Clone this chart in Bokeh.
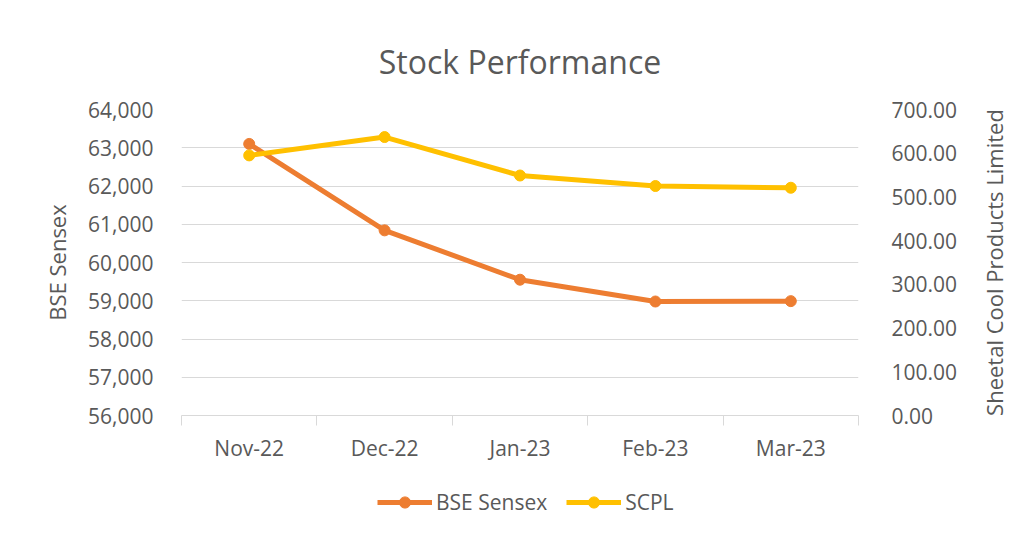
import math
from bokeh.plotting import figure
from bokeh.layouts import row, column
from bokeh.models import (FactorRange, Range1d, LinearAxis, CategoricalAxis, FixedTicker,
                          NumeralTickFormatter, Legend, LegendItem)
from bokeh.embed import file_html
from bokeh.resources import INLINE

months = ["Nov-22", "Dec-22", "Jan-23", "Feb-23", "Mar-23"]
bse_sensex = [63100, 60840, 59550, 58980, 58990]
scpl = [595, 637, 549, 525, 521]
left_ticks = [56000, 57000, 58000, 59000, 60000, 61000, 62000, 63000, 64000]
right_ticks = [0, 100, 200, 300, 400, 500, 600, 700]

FONT = "Open Sans"
TXT = "#595959"
GRID = "#d9d9d9"
ORANGE = "#ED7D31"
YELLOW = "#FFC000"

# ---------------- main chart ----------------
p = figure(width=960, height=486, x_range=FactorRange(factors=months),
           y_range=Range1d(56000, 64000), output_backend="svg", toolbar_location=None,
           x_axis_location=None,
           min_border_left=181, min_border_right=91, min_border_top=109, min_border_bottom=71)
p.outline_line_color = None

p.title.text = "Stock Performance"
p.title.align = "center"
p.title.text_font = FONT
p.title.text_font_size = "32px"
p.title.text_font_style = "normal"
p.title.text_color = TXT
p.title.standoff = 54

p.extra_y_ranges = {"scpl": Range1d(0, 700)}

ly = p.yaxis[0]
ly.ticker = FixedTicker(ticks=left_ticks)
ly.formatter = NumeralTickFormatter(format="0,0")
ly.axis_label = "BSE Sensex"
ry = LinearAxis(y_range_name="scpl", ticker=FixedTicker(ticks=right_ticks),
                formatter=NumeralTickFormatter(format="0.00"))
p.add_layout(ry, "right")
for ax in (ly, ry):
    ax.axis_line_color = None
    ax.major_tick_line_color = None
    ax.minor_tick_line_color = None
    ax.major_label_text_font = FONT
    ax.major_label_text_font_size = "21px"
    ax.major_label_text_color = TXT
ly.axis_label_text_font = FONT
ly.axis_label_text_font_size = "22px"
ly.axis_label_text_font_style = "normal"
ly.axis_label_text_color = TXT
ly.major_label_standoff = 22
ly.axis_label_standoff = 13
ry.major_label_standoff = 27

# boundary ticks (Excel style) in the factor range's synthetic coordinates
tx = LinearAxis(ticker=FixedTicker(ticks=[0, 1, 2, 3, 4, 5]),
                major_label_overrides={i: "" for i in range(6)})
tx.axis_line_color = GRID
tx.major_tick_line_color = GRID
tx.major_tick_in = 0
tx.major_tick_out = 10
tx.minor_tick_line_color = None
tx.major_label_text_font_size = "1px"
tx.major_label_standoff = 0
p.add_layout(tx, "below")

cx = CategoricalAxis()
cx.axis_line_color = None
cx.major_tick_line_color = None
cx.major_label_text_font = FONT
cx.major_label_text_font_size = "21px"
cx.major_label_text_color = TXT
cx.major_label_standoff = 2
p.add_layout(cx, "below")

p.ygrid.ticker = FixedTicker(ticks=left_ticks)
p.ygrid.grid_line_color = GRID
p.xgrid.grid_line_color = None

p.line(months, bse_sensex, line_color=ORANGE, line_width=5)
p.scatter(months, bse_sensex, size=11, fill_color=ORANGE, line_color=ORANGE)
p.line(months, scpl, y_range_name="scpl", line_color=YELLOW, line_width=5)
p.scatter(months, scpl, y_range_name="scpl", size=11, fill_color=YELLOW, line_color=YELLOW)

# ---------------- right axis title strip ----------------
strip = figure(width=60, height=486, x_range=Range1d(0, 1), y_range=Range1d(0, 1),
               output_backend="svg", toolbar_location=None, title=None,
               x_axis_location=None, y_axis_location="left",
               min_border_left=50, min_border_right=0, min_border_top=0, min_border_bottom=0)
strip.outline_line_color = None
strip.xgrid.visible = False
strip.ygrid.visible = False
sa = strip.yaxis[0]
sa.ticker = FixedTicker(ticks=[])
sa.axis_line_color = None
sa.major_tick_line_color = None
sa.minor_tick_line_color = None
sa.major_tick_out = 0
sa.major_label_standoff = 0
sa.axis_label = "Sheetal Cool Products Limited"
sa.axis_label_text_font = FONT
sa.axis_label_text_font_size = "22px"
sa.axis_label_text_font_style = "normal"
sa.axis_label_text_color = TXT
sa.axis_label_standoff = 2

# ---------------- legend strip ----------------
# the series are drawn again here only so the legend has glyphs; the y range keeps them off-frame
leg = figure(width=1020, height=47, x_range=FactorRange(factors=months), y_range=Range1d(0, 1),
             output_backend="svg", toolbar_location=None, title=None,
             x_axis_location=None, y_axis_location=None,
             min_border_left=0, min_border_right=0, min_border_top=0, min_border_bottom=0)
leg.outline_line_color = None
leg.xgrid.visible = False
leg.ygrid.visible = False
l1 = leg.line(months, bse_sensex, line_color=ORANGE, line_width=5)
c1 = leg.scatter(months, bse_sensex, size=11, fill_color=ORANGE, line_color=ORANGE)
l2 = leg.line(months, scpl, line_color=YELLOW, line_width=5)
c2 = leg.scatter(months, scpl, size=11, fill_color=YELLOW, line_color=YELLOW)
legend = Legend(items=[LegendItem(label="BSE Sensex", renderers=[l1, c1]),
                       LegendItem(label="SCPL", renderers=[l2, c2])],
                orientation="horizontal", location=(377, 17))
legend.label_text_font = FONT
legend.label_text_font_size = "21px"
legend.label_text_color = TXT
legend.glyph_width = 55
legend.glyph_height = 28
legend.label_standoff = 4
legend.spacing = 19
legend.padding = 0
legend.margin = 0
legend.border_line_color = None
legend.background_fill_alpha = 0
leg.add_layout(legend)

layout = column(row(p, strip), leg)
open("out.html", "w").write(file_html(layout, INLINE))
